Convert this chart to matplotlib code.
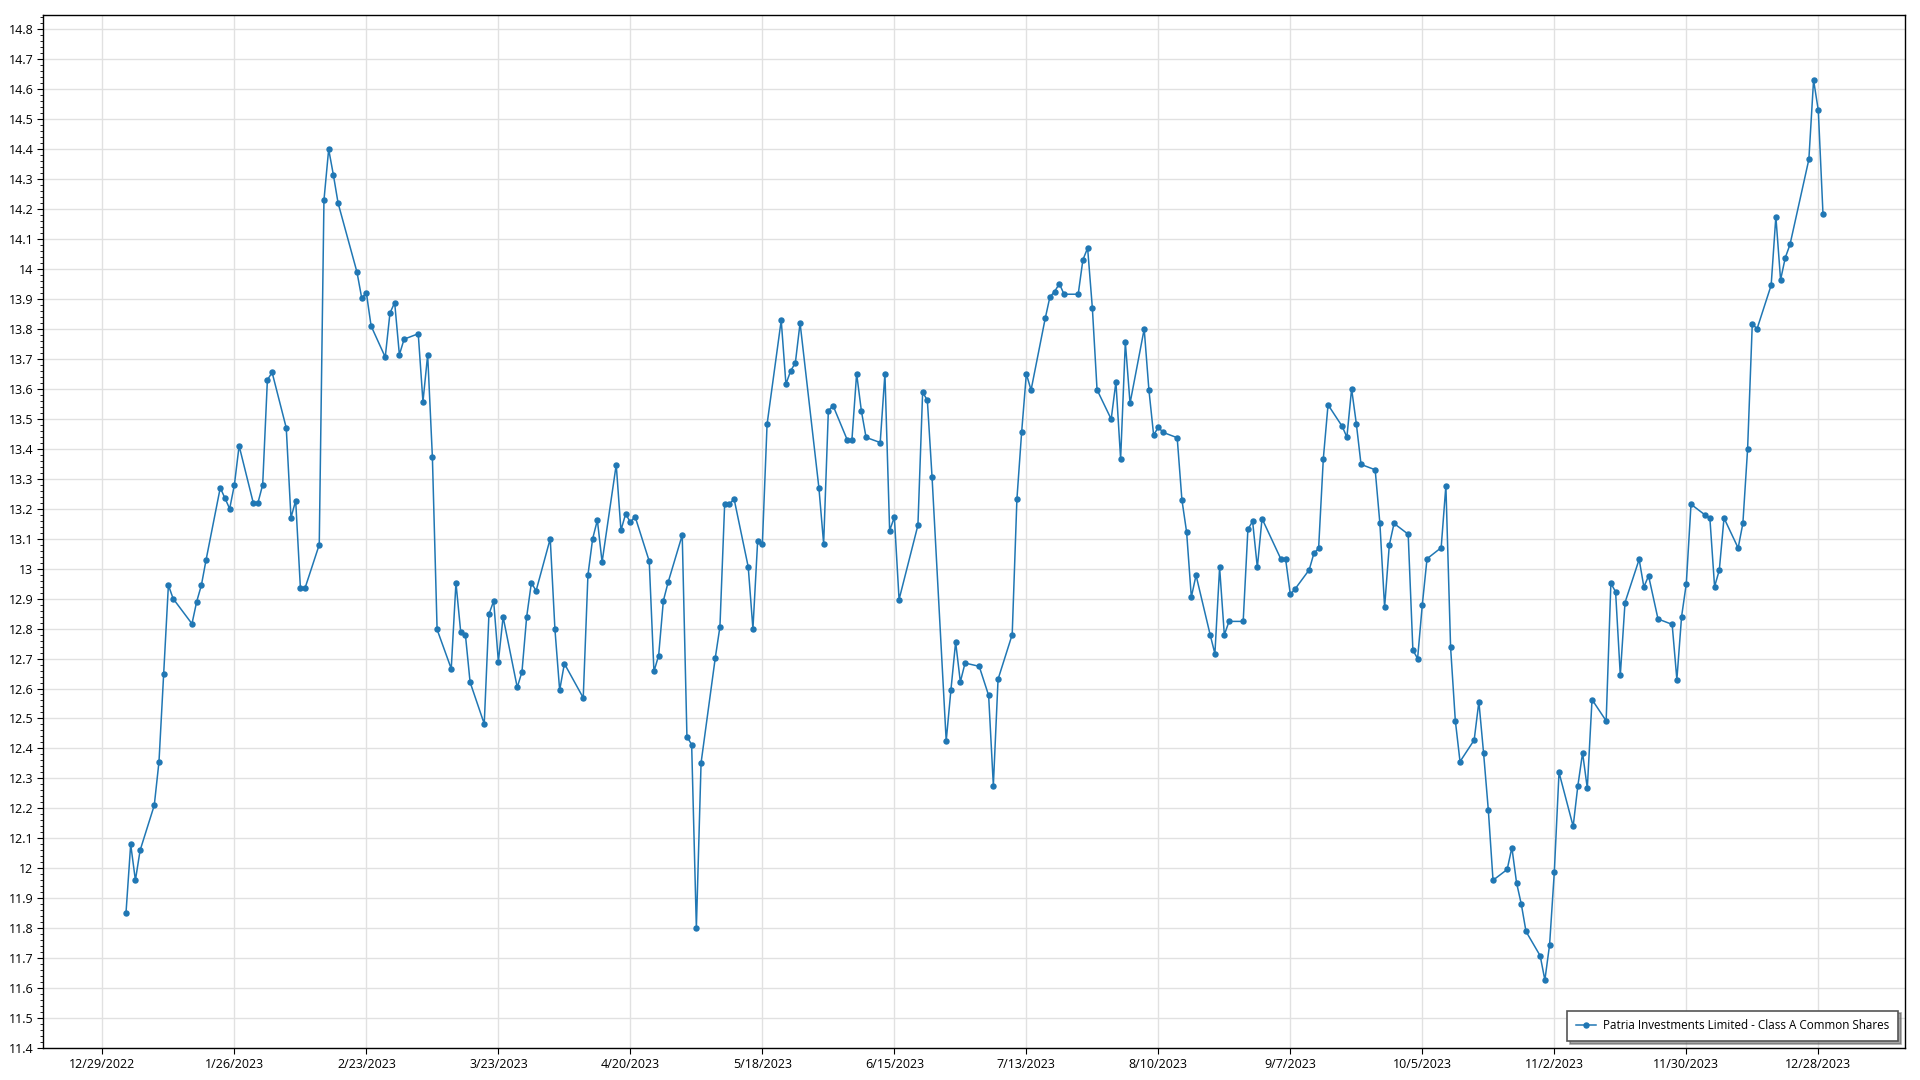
import matplotlib
matplotlib.use("Agg")
import matplotlib.pyplot as plt
from matplotlib.ticker import MultipleLocator, FuncFormatter
import pandas as pd

# closing prices, one list per month (NYSE trading days of 2023)
jan = [11.85, 12.08, 11.96, 12.06,
       12.21, 12.355, 12.65, 12.945, 12.90,
       12.816, 12.89, 12.945, 13.03,
       13.27, 13.235, 13.20, 13.28, 13.41,
       13.22, 13.22]
feb = [13.28, 13.63, 13.655,
       13.47, 13.17, 13.227, 12.936, 12.936,
       13.08, 14.23, 14.40, 14.314, 14.22,
       13.99, 13.904, 13.92, 13.81,
       13.706, 13.853]
mar = [13.888, 13.714, 13.766,
       13.784, 13.557, 13.714, 13.373, 12.797,
       12.666, 12.953, 12.79, 12.78, 12.621,
       12.482, 12.848, 12.892, 12.69, 12.839,
       12.604, 12.655, 12.839, 12.953, 12.926]
apr = [13.10, 12.797, 12.594, 12.683,
       12.569, 12.979, 13.10, 13.162, 13.022,
       13.347, 13.128, 13.183, 13.155, 13.174,
       13.025, 12.657, 12.71, 12.893, 12.954]
may = [13.112, 12.439, 12.413, 11.801, 12.352,
       12.701, 12.806, 13.215, 13.215, 13.233,
       13.006, 12.799, 13.092, 13.082, 13.482,
       13.829, 13.616, 13.66, 13.687, 13.82,
       13.269, 13.083]
jun = [13.527, 13.544,
       13.43, 13.43, 13.651, 13.527, 13.438,
       13.421, 13.651, 13.127, 13.172, 12.897,
       13.145, 13.589, 13.562, 13.305,
       12.425, 12.595, 12.755, 12.622, 12.685]
jul = [12.674, 12.577, 12.276, 12.631,
       12.78, 13.232, 13.455, 13.65, 13.596,
       13.835, 13.907, 13.925, 13.951, 13.916,
       13.916, 14.031, 14.07, 13.871, 13.597,
       13.499]
aug = [13.623, 13.366, 13.756, 13.552,
       13.80, 13.597, 13.446, 13.472, 13.455,
       13.437, 13.23, 13.122, 12.905, 12.978,
       12.779, 12.716, 13.004, 12.779, 12.824,
       12.824, 13.131, 13.158, 13.004]
sep = [13.167,
       13.032, 13.032, 12.914, 12.932,
       12.996, 13.051, 13.068, 13.367, 13.547,
       13.475, 13.439, 13.60, 13.484, 13.348,
       13.33, 13.151, 12.871, 13.079, 13.151]
oct_ = [13.115, 12.728, 12.70, 12.88, 13.033,
        13.07, 13.277, 12.737, 12.493, 12.356,
        12.428, 12.556, 12.384, 12.195, 11.96,
        11.996, 12.069, 11.951, 11.88, 11.789,
        11.708, 11.627]
nov = [11.745, 11.987, 12.32,
       12.14, 12.276, 12.385, 12.267, 12.563,
       12.492, 12.951, 12.923, 12.644, 12.887,
       13.031, 12.939, 12.976, 12.832,
       12.814, 12.63, 12.84, 12.95]
dec = [13.215,
       13.179, 13.169, 12.94, 12.995, 13.169,
       13.069, 13.151, 13.398, 13.818, 13.80,
       13.946, 14.175, 13.964, 14.038, 14.082,
       14.366, 14.631, 14.53, 14.183]

holidays = ["2023-01-02", "2023-01-16", "2023-02-20", "2023-04-07", "2023-05-29",
            "2023-06-19", "2023-07-04", "2023-09-04", "2023-11-23", "2023-12-25"]

prices = jan + feb + mar + apr + may + jun + jul + aug + sep + oct_ + nov + dec
dates = pd.bdate_range("2023-01-03", "2023-12-29", freq="C", holidays=holidays)

label = "Patria Investments Limited - Class A Common Shares"

plt.rcParams['font.family'] = ['Open Sans', 'DejaVu Sans']

fig = plt.figure(figsize=(19.2, 10.8), dpi=100)
ax = fig.add_axes([0.0224, 0.0296, 0.9698, 0.9568])

ax.plot(dates, prices, color="#2077b4", lw=1.1, marker="o", markersize=3.6,
        label=label, zorder=3)

# axes ranges
ax.set_ylim(11.4, 14.849)
ax.set_xlim(pd.Timestamp("2022-12-29") - pd.Timedelta(days=12.6),
            pd.Timestamp("2022-12-29") + pd.Timedelta(days=382.4))

ax.yaxis.set_major_locator(MultipleLocator(0.1))
ax.yaxis.set_minor_locator(MultipleLocator(0.02))
ax.yaxis.set_major_formatter(FuncFormatter(lambda v, p: f"{round(v, 1):g}"))

xt = pd.date_range("2022-12-29", periods=14, freq="28D")
ax.set_xticks(xt)
ax.set_xticklabels([f"{d.month}/{d.day}/{d.year}" for d in xt])

ax.tick_params(axis="both", which="major", labelsize=9, length=4, color="black", pad=3)
ax.tick_params(axis="y", which="minor", length=2, color="black")
ax.tick_params(axis="x", which="minor", length=0)

ax.grid(True, which="major", color="#e1e1e1", lw=1, zorder=0)
for s in ax.spines.values():
    s.set_color("black")
    s.set_linewidth(1)

leg = ax.legend(loc="lower right", prop={"family": ["Open Sans", "DejaVu Sans"], "size": 8.4},
                fancybox=False, shadow=True, framealpha=1, edgecolor="#555555",
                borderaxespad=0.6, handlelength=1.7, borderpad=0.75, handletextpad=0.6)
leg.get_frame().set_linewidth(1.2)

fig.savefig("out.png", dpi=100, facecolor="white")
